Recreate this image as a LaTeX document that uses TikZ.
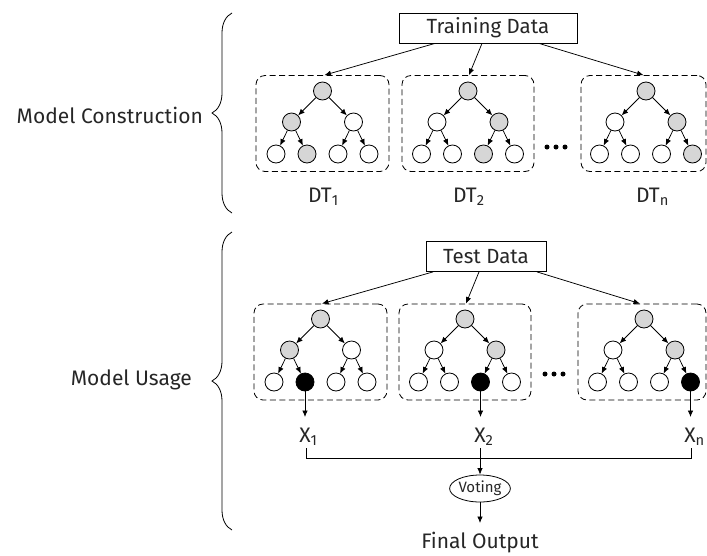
\documentclass[tikz,border=0pt]{standalone}
\usepackage{fontspec}
\setmainfont{Fira Sans}
\usetikzlibrary{arrows.meta,shapes.geometric,decorations.pathreplacing}

\definecolor{nodegray}{HTML}{D6D6D6}
\definecolor{txt}{HTML}{262626}

\tikzset{
  tnode/.style={circle, draw=black, line width=0.8pt, minimum size=18pt, inner sep=0pt, fill=white},
  gnode/.style={tnode, fill=nodegray},
  bnode/.style={tnode, fill=black},
  tedge/.style={-{Latex[length=6.5pt,width=5.5pt]}, line width=0.75pt},
  dbox/.style={draw, dash pattern=on 6pt off 3.5pt, rounded corners=9pt, line width=0.8pt, minimum height=96pt, inner sep=0pt},
  databox/.style={draw, line width=0.8pt, minimum height=30pt, inner sep=0pt, text=txt, font=\fontsize{20.5}{24}\selectfont},
  lbl/.style={text=txt, inner sep=0pt, font=\fontsize{21}{25}\selectfont},
  dotm/.style={circle, fill=black, inner sep=0pt, minimum size=5pt},
  sidebrace/.style={decorate, decoration={brace, amplitude=20pt}, line width=0.8pt},
}

% a depth-two binary tree: prefix, root x, box top y, styles of the six lower nodes
\newcommand\dtree[9]{%
  \node[gnode] (#1r) at (#2,#3+15) {};
  \node[#4] (#1a) at (#2-31,#3+46) {};
  \node[#5] (#1b) at (#2+31,#3+46) {};
  \node[#6] (#1aa) at (#2-46.5,#3+78) {};
  \node[#7] (#1ab) at (#2-15.5,#3+78) {};
  \node[#8] (#1ba) at (#2+15.5,#3+78) {};
  \node[#9] (#1bb) at (#2+46.5,#3+78) {};
  \draw[tedge] (#1r) -- (#1a);
  \draw[tedge] (#1r) -- (#1b);
  \draw[tedge] (#1a) -- (#1aa);
  \draw[tedge] (#1a) -- (#1ab);
  \draw[tedge] (#1b) -- (#1ba);
  \draw[tedge] (#1b) -- (#1bb);
}

\begin{document}
\begin{tikzpicture}[x=1pt, y=-1pt]
\useasboundingbox (0,0) rectangle (707,555);

% ---------- model construction ----------
\node[databox, minimum width=178pt] (train) at (488,28) {Training Data};

\node[dbox, minimum width=133pt] (b1) at (322.5,123.5) {};
\node[dbox, minimum width=132pt] (b2) at (468,123.5) {};
\node[dbox, minimum width=125pt] (b3) at (643.5,123.5) {};

\dtree{p}{322.5}{76}{gnode}{tnode}{tnode}{gnode}{tnode}{tnode}
\dtree{q}{468}{76}{tnode}{gnode}{tnode}{tnode}{gnode}{tnode}
\dtree{s}{646}{76}{tnode}{gnode}{tnode}{tnode}{tnode}{gnode}

\draw[tedge] ([xshift=-53pt]train.south) -- ([xshift=2pt]b1.north);
\draw[tedge] ([xshift=-6pt]train.south) -- ([xshift=1pt]b2.north);
\draw[tedge] ([xshift=51pt]train.south) -- ([xshift=0pt]b3.north);

\node[dotm] (d1) at (547,147) {};
\node[dotm] (d2) at (556,147) {};
\node[dotm] (d3) at (565,147) {};

\node[lbl] (dt1) at (320,197) {DT\rlap{\textsubscript{1}}};
\node[lbl] (dt2) at (465,197) {DT\rlap{\textsubscript{2}}};
\node[lbl] (dtn) at (648,197) {DT\rlap{\textsubscript{n}}};

\node[lbl, anchor=east] (mc) at (203,115) {Model Construction};
\draw[sidebrace] (232,213) -- (232,13);

% ---------- model usage ----------
\node[databox, minimum width=120pt] (test) at (486,256.5) {Test Data};

\node[dbox, minimum width=133pt] (b4) at (320.5,352) {};
\node[dbox, minimum width=132pt] (b5) at (465,352) {};
\node[dbox, minimum width=128pt] (b6) at (642,352) {};

\dtree{u}{320.5}{304}{gnode}{tnode}{tnode}{bnode}{tnode}{tnode}
\dtree{v}{465}{304}{tnode}{gnode}{tnode}{tnode}{bnode}{tnode}
\dtree{w}{644}{304}{tnode}{gnode}{tnode}{tnode}{tnode}{bnode}

\draw[tedge] ([xshift=-53pt]test.south) -- ([xshift=1.5pt]b4.north);
\draw[tedge] ([xshift=-7pt]test.south) -- ([xshift=1pt]b5.north);
\draw[tedge] ([xshift=51pt]test.south) -- ([xshift=-2pt]b6.north);

\node[dotm] (e1) at (545,374) {};
\node[dotm] (e2) at (554,374) {};
\node[dotm] (e3) at (563,374) {};

\coordinate (a1) at (305,417);
\coordinate (a2) at (480.5,417);
\coordinate (an) at (690.5,417);
\draw[tedge] (uab) -- (a1);
\draw[tedge] (vba) -- (a2);
\draw[tedge] (wbb) -- (an);

\node[lbl] (x1) at (305,437) {X\rlap{\textsubscript{1}}};
\node[lbl] (x2) at (480,437) {X\rlap{\textsubscript{2}}};
\node[lbl] (xn) at (690,437) {X\rlap{\textsubscript{n}}};

\coordinate (t1) at (306,448);
\coordinate (t2) at (480,448);
\coordinate (tn) at (691,448);
\draw[line width=0.8pt] (t1) -- ++(0,10) -| (tn);

\node[draw, ellipse, line width=0.8pt, minimum width=55pt, minimum height=27pt, inner sep=0pt,
      text=txt, font=\fontsize{15}{17}\selectfont] (vote) at (480,488.5) {Voting};
\draw[tedge] (t2) -- (vote.north);

\coordinate (fo) at (480,523);
\draw[tedge] (vote.south) -- (fo);
\node[lbl] (final) at (480,543) {Final Output};

\node[lbl, anchor=east] (mu) at (192,380) {Model Usage};
\draw[sidebrace] (232,530) -- (232,232);
\end{tikzpicture}
\end{document}
